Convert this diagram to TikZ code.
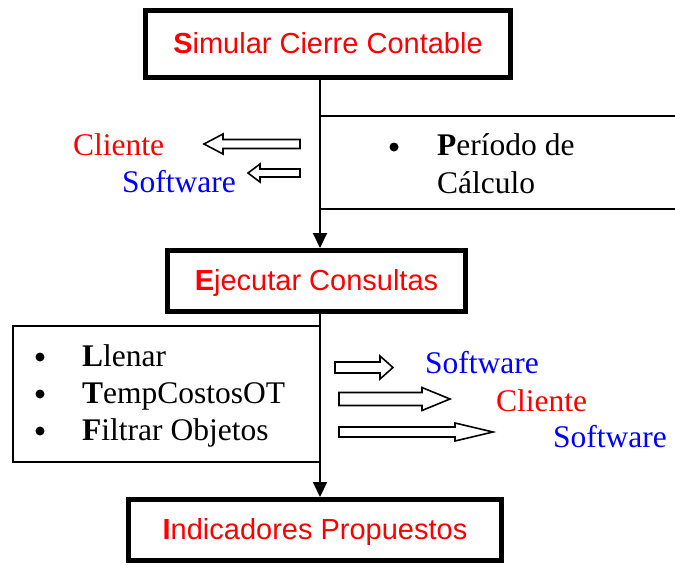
\documentclass[tikz,border=0pt]{standalone}
\usepackage{fontspec}
\setmainfont{Liberation Serif}
\newfontfamily\arialf{Liberation Sans}
\usetikzlibrary{arrows.meta}
\definecolor{tred}{RGB}{255,0,0}
\definecolor{tblue}{RGB}{0,0,255}
\newcommand\HArrow[6]{% tail x, head base x, tip x, y, shaft half, head half
  \draw[hollowarrow] (#1,#4-#5) -- (#2,#4-#5) -- (#2,#4-#6) -- (#3,#4)
    -- (#2,#4+#6) -- (#2,#4+#5) -- (#1,#4+#5) -- cycle;}
\begin{document}
\begin{tikzpicture}[x=1pt,y=-1pt,
  mainbox/.style={draw, line width=5pt, inner sep=0pt, text=tred,
    font=\arialf\fontsize{29}{34}\selectfont, text height=21pt, text depth=3pt},
  conn/.style={line width=2pt, -{Triangle[length=15pt,width=14pt]}},
  thinline/.style={line width=2pt},
  hollowarrow/.style={line width=1.6pt, line join=miter, fill=white},
  lab/.style={anchor=base west, inner sep=0pt, font=\fontsize{31.5}{36}\selectfont},
  bul/.style={circle, fill=black, inner sep=0pt, minimum size=9pt}]
\useasboundingbox (0,0) rectangle (675,565);
\fill[white] (0,0) rectangle (675,565);

% main boxes
\node[mainbox, minimum width=365pt, minimum height=67pt] (b1) at (328,44) {\textbf{S}imular Cierre Contable};
\node[mainbox, minimum width=298pt, minimum height=61pt] (b2) at (316.5,281) {\textbf{E}jecutar Consultas};
\node[mainbox, minimum width=373pt, minimum height=61pt] (b3) at (315,530) {\textbf{I}ndicadores Propuestos};

% spine
\coordinate (sp) at (320,0);
\draw[conn] (b1.south -| sp) -- (b2.north -| sp);
\draw[conn] (b2.south -| sp) -- (b3.north -| sp);

% Periodo box (open on the right)
\draw[thinline] (320,116) -- (675,116);
\draw[thinline] (320,209) -- (675,209);
\node[bul] (pb) at (394,147) {};
\node[lab] (p1) at (437,155) {\textbf{P}eríodo de};
\node[lab] (p2) at (437,193) {Cálculo};

% left labels and arrows
\node[lab, text=tred] (lc) at (73,155) {Cliente};
\node[lab, text=tblue] (ls) at (122,192) {Software};
\HArrow{300}{223}{204}{144}{4.5}{10}
\HArrow{300}{260}{248}{173}{4}{9}

% list box
\draw[thinline] (13,326) rectangle (320,462);
\node[bul] (l1b) at (40,357) {};
\node[bul] (l2b) at (40,394) {};
\node[bul] (l3b) at (40,431) {};
\node[lab] (l1) at (82,366) {\textbf{L}lenar};
\node[lab] (l2) at (82,403) {\textbf{T}empCostosOT};
\node[lab] (l3) at (82,440) {\textbf{F}iltrar Objetos};

% right arrows and labels
\HArrow{335}{380}{393}{367.5}{5.5}{11.5}
\HArrow{339}{422}{450}{399}{6.5}{11.5}
\HArrow{339}{455}{493}{432}{5}{9}
\node[lab, text=tblue] (rs1) at (425,373) {Software};
\node[lab, text=tred] (rc) at (496,411) {Cliente};
\node[lab, text=tblue] (rs2) at (553,447) {Software};
\end{tikzpicture}
\end{document}
